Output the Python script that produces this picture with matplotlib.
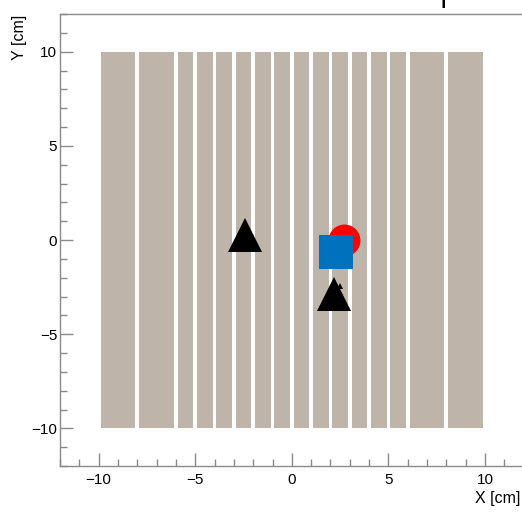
import numpy as np
import matplotlib
matplotlib.use('Agg')
import matplotlib.pyplot as plt
from matplotlib.ticker import MultipleLocator

matplotlib.rcParams['font.family'] = ['Liberation Sans', 'DejaVu Sans']
matplotlib.rcParams['font.size'] = 11

# strip boundaries along x [cm] (wide strips at both ends, 1 cm strips in the middle)
strip_bounds = [-10, -8, -6, -5, -4, -3, -2, -1, 0, 1, 2, 3, 4, 5, 6, 8, 10]
strip_ymin, strip_ymax = -10, 10

# reconstructed hit positions [cm]
tri_x = [-2.45, 2.2]
tri_y = [0.25, -2.85]
circ_x = [2.7]
circ_y = [0.0]
sq_x = [2.3]
sq_y = [-0.65]
small_x = [2.5]
small_y = [-2.45]

gap = 0.1
frame_col = '#8a8a8a'

fig = plt.figure(figsize=(5.22, 5.12), dpi=100)
ax = fig.add_axes([60 / 522, 46 / 512, 463.7 / 522, 452 / 512])

# strips
lefts = np.array(strip_bounds[:-1], dtype=float)
widths = np.diff(strip_bounds).astype(float)
ax.bar(lefts + gap, strip_ymax - strip_ymin, width=widths - 2 * gap,
       bottom=strip_ymin, align='edge', color='#BEB4AA', edgecolor='none',
       zorder=1)

# hits
ax.plot(tri_x, tri_y, ls='none', marker='^', ms=24.5, mew=0, color='black', zorder=3)
ax.plot(small_x, small_y, ls='none', marker='^', ms=4, mew=0, color='black', zorder=3)
ax.plot(circ_x, circ_y, ls='none', marker='o', ms=23, mew=0, color='#FF0000', zorder=4)
ax.plot(sq_x, sq_y, ls='none', marker='s', ms=23.8, mew=0, color='#0071BC', zorder=5)

ax.set_xlim(-12, 12)
ax.set_ylim(-12, 12)

for s in ax.spines.values():
    s.set_color(frame_col)
    s.set_linewidth(1.0)
ax.spines['right'].set_visible(False)

ax.xaxis.set_major_locator(MultipleLocator(5))
ax.xaxis.set_minor_locator(MultipleLocator(1))
ax.yaxis.set_major_locator(MultipleLocator(5))
ax.yaxis.set_minor_locator(MultipleLocator(1))
ax.tick_params(which='both', direction='in', color=frame_col, width=1.0,
               top=False, right=False)
ax.tick_params(which='major', length=9.4)
ax.tick_params(which='minor', length=5)
ax.tick_params(axis='x', pad=5)
ax.tick_params(axis='y', pad=2)

ax.set_xlabel('X [cm]', loc='right', fontsize=11.5)
ax.set_ylabel('Y [cm]', loc='top', fontsize=11.5)
ax.xaxis.set_label_coords(0.992, -0.056)
ax.yaxis.set_label_coords(-0.071, 0.998)

# title fragment at the top edge
fig.text(443 / 522, 1.0, '|', ha='center', va='center', fontsize=14,
         fontweight='bold', color='black')

plt.savefig('out.png', dpi=100)
